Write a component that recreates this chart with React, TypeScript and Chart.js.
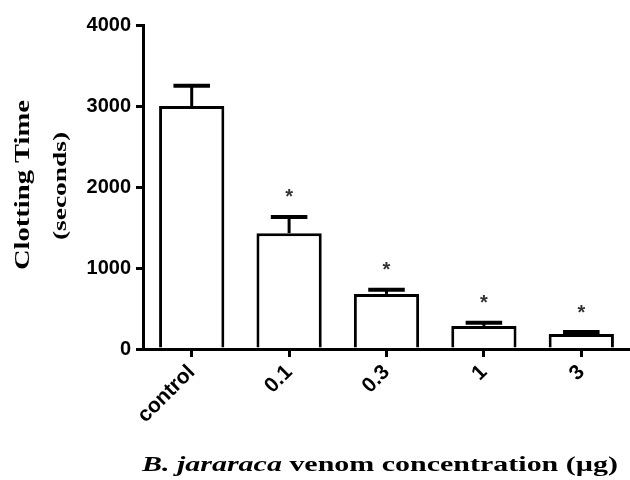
import React, { useEffect, useRef } from "react";
import { Chart, registerables } from "chart.js";

Chart.register(...registerables);

const categories = ["control", "0.1", "0.3", "1", "3"];
const meanTimes = [3000, 1430, 680, 285, 185];
const semTimes = [250, 200, 50, 40, 25];
const significance = ["", "*", "*", "*", "*"];
const yMin = 0;
const yMax = 4000;
const yStep = 1000;
const yTitleLines = ["Clotting Time", "(seconds)"];
const xTitleItalic = "B. jararaca";
const xTitleRest = " venom concentration (µg)";

const SANS = "'Liberation Sans', Arial, sans-serif";
const SERIF = "'Liberation Serif', 'Times New Roman', serif";

const errorBarPlugin = {
  id: "errorBars",
  afterDatasetsDraw(chart: any) {
    const { ctx } = chart;
    const meta = chart.getDatasetMeta(0);
    const y = chart.scales.y;
    ctx.save();
    meta.data.forEach((bar: any, i: number) => {
      const x = bar.x;
      const top = y.getPixelForValue(meanTimes[i]);
      const cap = y.getPixelForValue(meanTimes[i] + semTimes[i]);
      const half = bar.width * 0.28;
      ctx.strokeStyle = "#000";
      ctx.lineWidth = 3;
      ctx.beginPath();
      ctx.moveTo(x, top);
      ctx.lineTo(x, cap);
      ctx.stroke();
      ctx.lineWidth = 4;
      ctx.beginPath();
      ctx.moveTo(x - half, cap);
      ctx.lineTo(x + half, cap);
      ctx.stroke();
      if (significance[i]) {
        ctx.fillStyle = "#333";
        ctx.font = `bold 20px ${SANS}`;
        ctx.textAlign = "center";
        ctx.textBaseline = "middle";
        ctx.fillText(significance[i], x, cap - 19);
      }
    });
    ctx.restore();
  },
};

function drawFitted(
  ctx: CanvasRenderingContext2D,
  parts: { text: string; font: string }[],
  x: number,
  y: number,
  width: number,
  rotate: boolean
) {
  let total = 0;
  for (const p of parts) {
    ctx.font = p.font;
    total += ctx.measureText(p.text).width;
  }
  const s = width / total;
  ctx.save();
  ctx.translate(x, y);
  if (rotate) ctx.rotate(-Math.PI / 2);
  ctx.scale(s, 1);
  ctx.fillStyle = "#000";
  ctx.textAlign = "left";
  ctx.textBaseline = "alphabetic";
  let cx = 0;
  for (const p of parts) {
    ctx.font = p.font;
    ctx.fillText(p.text, cx, 0);
    cx += ctx.measureText(p.text).width;
  }
  ctx.restore();
}

const titlesPlugin = {
  id: "customTitles",
  afterDraw(chart: any) {
    const ctx = chart.ctx as CanvasRenderingContext2D;
    drawFitted(ctx, [{ text: yTitleLines[0], font: `bold 22px ${SERIF}` }], 29, 270, 170, true);
    drawFitted(ctx, [{ text: yTitleLines[1], font: `bold 19px ${SERIF}` }], 66, 240, 108, true);
    drawFitted(
      ctx,
      [
        { text: xTitleItalic, font: `italic bold 22px ${SERIF}` },
        { text: xTitleRest, font: `bold 22px ${SERIF}` },
      ],
      142,
      471,
      476,
      false
    );
  },
};

export default function App() {
  const ref = useRef<HTMLCanvasElement>(null);
  useEffect(() => {
    if (!ref.current) return;
    const chart = new Chart(ref.current, {
      type: "bar",
      data: {
        labels: categories,
        datasets: [
          {
            data: meanTimes,
            backgroundColor: "#fff",
            borderColor: "#000",
            borderWidth: 3,
            barPercentage: 0.67,
            categoryPercentage: 1,
          },
        ],
      },
      options: {
        animation: false,
        responsive: false,
        maintainAspectRatio: false,
        layout: { padding: { top: 25, right: 0, left: 0, bottom: 0 } },
        plugins: {
          legend: { display: false },
          tooltip: { enabled: false },
          title: { display: false },
        },
        scales: {
          x: {
            offset: true,
            grid: {
              offset: false,
              drawOnChartArea: false,
              drawTicks: true,
              tickLength: 8,
              color: "#000",
              lineWidth: 3,
            },
            border: { display: true, color: "#000", width: 3 },
            ticks: {
              color: "#000",
              font: { family: SANS, size: 21, weight: "bold" },
              maxRotation: 45,
              minRotation: 45,
              padding: 3,
            },
            afterFit: (scale: any) => {
              scale.height = 131;
            },
          },
          y: {
            min: yMin,
            max: yMax,
            grid: {
              drawOnChartArea: false,
              drawTicks: true,
              tickLength: 7,
              color: "#000",
              lineWidth: 3,
            },
            border: { display: true, color: "#000", width: 3 },
            ticks: {
              stepSize: yStep,
              color: "#000",
              font: { family: SANS, size: 20, weight: "bold" },
              padding: 5,
              callback: (v: any) => String(v),
            },
            afterFit: (scale: any) => {
              scale.width = 143;
            },
          },
        },
      },
      plugins: [errorBarPlugin, titlesPlugin],
    });
    return () => chart.destroy();
  }, []);
  return (
    <div style={{ position: "fixed", left: 0, top: 0, width: 630, height: 480, background: "#fff" }}>
      <canvas ref={ref} width={630} height={480} />
    </div>
  );
}
